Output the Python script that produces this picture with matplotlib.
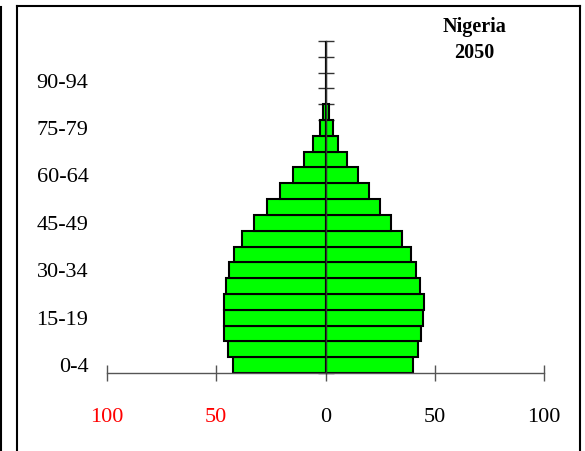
import matplotlib
matplotlib.use("Agg")
import matplotlib.pyplot as plt
from matplotlib.lines import Line2D

plt.rcParams['font.family'] = ['Liberation Serif', 'DejaVu Serif']

age_groups = ["0-4", "5-9", "10-14", "15-19", "20-24", "25-29", "30-34", "35-39",
              "40-44", "45-49", "50-54", "55-59", "60-64", "65-69", "70-74",
              "75-79", "80-84", "85-89", "90-94", "95-99", "100+"]
male = [42.4, 44.8, 46.5, 46.6, 46.6, 45.7, 44.0, 41.7, 38.3, 32.5, 26.7,
        20.9, 15.1, 10.0, 5.9, 2.7, 1.3, 0, 0, 0, 0]
female = [39.9, 42.3, 43.9, 44.5, 44.9, 43.3, 41.6, 39.1, 34.9, 30.0, 25.0,
          20.1, 15.0, 9.8, 5.7, 3.4, 1.6, 0, 0, 0, 0]
shown_labels = ["0-4", "15-19", "30-34", "45-49", "60-64", "75-79", "90-94"]
x_ticks = [-100, -50, 0, 50, 100]
x_tick_labels = ["100", "50", "0", "50", "100"]
x_tick_colors = ["#ff0000", "#ff0000", "black", "black", "black"]
title_lines = ["Nigeria", "2050"]

W, H = 585, 451
fig = plt.figure(figsize=(W / 100, H / 100), dpi=100)
fig.patch.set_facecolor("white")

ax = fig.add_axes([107 / W, (H - 373) / H, 437 / W, 332 / H])
ax.set_facecolor("white")
ypos = list(range(len(age_groups)))
ax.barh(ypos, [-m for m in male], height=1.0, color="#00ff00",
        edgecolor="black", linewidth=1.5, zorder=2)
ax.barh(ypos, female, height=1.0, color="#00ff00",
        edgecolor="black", linewidth=1.5, zorder=2)

ax.set_xlim(-100, 100)
ax.set_ylim(-0.5, len(age_groups) - 0.5)

for s in ["top", "right"]:
    ax.spines[s].set_visible(False)
ax.spines["left"].set_position(("data", 0))
ax.spines["left"].set_color("#333333")
ax.spines["left"].set_linewidth(1.0)
ax.spines["left"].set_zorder(3)
ax.spines["bottom"].set_color("#555555")
ax.spines["bottom"].set_linewidth(1.0)

ax.set_yticks([i - 0.5 for i in range(len(age_groups) + 1)])
ax.set_yticklabels([])
ax.tick_params(axis="y", direction="inout", length=12, width=1.0, color="#333333")

ax.set_xticks(x_ticks)
ax.set_xticklabels(x_tick_labels, fontsize=16)
for lab, c in zip(ax.get_xticklabels(), x_tick_colors):
    lab.set_color(c)
ax.tick_params(axis="x", direction="inout", length=12, width=1.0,
               color="#555555", pad=19)

for i, g in enumerate(age_groups):
    if g in shown_labels:
        ax.text(-108.5, i, g, ha="right", va="center_baseline", fontsize=16,
                color="black", clip_on=False)

fig.text(474.7 / W, 1 - 27 / H, title_lines[0], ha="center", va="center",
         fontsize=14.5, fontweight="bold")
fig.text(474.5 / W, 1 - 53 / H, title_lines[1], ha="center", va="center",
         fontsize=14.5, fontweight="bold")

# frame lines
def fline(x0, y0, x1, y1, lw=1.5):
    fig.add_artist(Line2D([x0 / W, x1 / W], [1 - y0 / H, 1 - y1 / H],
                          color="black", linewidth=lw, transform=fig.transFigure))

fline(16.5, 6, 580, 6)
fline(16.5, 6, 16.5, H)
fline(580, 6, 580, H)
fline(0.8, 7, 0.8, H)

fig.savefig("out.png", dpi=100)
